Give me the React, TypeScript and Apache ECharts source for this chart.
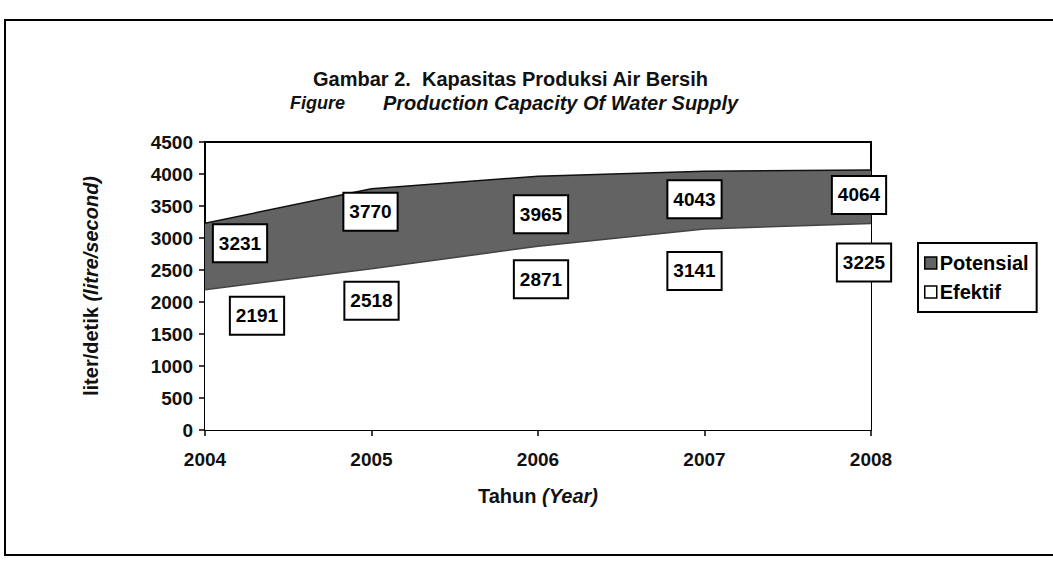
import React, { useEffect, useRef } from "react";
import * as echarts from "echarts";

const years = ["2004", "2005", "2006", "2007", "2008"];
const potensial = [3231, 3770, 3965, 4043, 4064];
const efektif = [2191, 2518, 2871, 3141, 3225];
const yTicks = { min: 0, max: 4500, interval: 500 };

// label placement (layout only)
const potOffsets = [[35, 20], [-1, 23], [3, 38], [-10, 28], [-12, 25]];
const efeOffsets = [[52, 26], [0, 32], [3, 33], [-10, 42], [-7, 39]];

const FONT = "'Liberation Sans', Arial, sans-serif";

const labelBase = {
  show: true,
  position: "inside",
  color: "#000",
  fontFamily: FONT,
  fontWeight: "bold",
  fontSize: 19,
  backgroundColor: "#fff",
  borderColor: "#000",
  borderWidth: 2,
  padding: [9, 5, 8, 5],
};

export default function App() {
  const ref = useRef<HTMLDivElement>(null);
  useEffect(() => {
    if (!ref.current) return;
    const chart = echarts.init(ref.current, null, { renderer: "svg" });
    chart.setOption({
      animation: false,
      backgroundColor: "#fff",
      title: [
        {
          text: "Gambar 2.  Kapasitas Produksi Air Bersih",
          left: 313,
          top: 69,
          padding: 0,
          textStyle: { fontFamily: FONT, fontWeight: "bold", fontSize: 20, color: "#111" },
        },
        {
          text: "{a|Figure}{b|Production Capacity Of Water Supply}",
          left: 290,
          top: 93,
          padding: 0,
          textStyle: {
            fontFamily: FONT,
            fontWeight: "bold",
            fontStyle: "italic",
            fontSize: 20,
            color: "#111",
            rich: {
              a: { fontFamily: FONT, fontWeight: "bold", fontStyle: "italic", fontSize: 18, color: "#111", width: 93 },
              b: { fontFamily: FONT, fontWeight: "bold", fontStyle: "italic", fontSize: 20, color: "#111" },
            },
          },
        },
      ],
      graphic: [
        {
          type: "rect",
          shape: { x: 5, y: 20, width: 1070, height: 535 },
          style: { fill: "none", stroke: "#000", lineWidth: 2 },
          z: -1,
        },
      ],
      legend: {
        orient: "vertical",
        left: 918,
        top: 243,
        padding: [10, 8, 10, 6],
        itemGap: 9,
        itemWidth: 12,
        itemHeight: 12,
        icon: "rect",
        borderColor: "#000",
        borderWidth: 2,
        backgroundColor: "#fff",
        textStyle: { fontFamily: FONT, fontWeight: "bold", fontSize: 20, color: "#000", padding: [0, 0, 0, -2] },
        data: [
          { name: "Potensial", itemStyle: { color: "#636363", borderColor: "#000", borderWidth: 1.5 } },
          { name: "Efektif", itemStyle: { color: "#fff", borderColor: "#000", borderWidth: 1.5 } },
        ],
      },
      grid: {
        left: 205,
        right: 182,
        top: 142,
        bottom: 133,
        show: true,
        borderColor: "#000",
        borderWidth: 2,
        backgroundColor: "#fff",
      },
      xAxis: {
        type: "category",
        data: years,
        boundaryGap: false,
        name: "Tahun {i|(Year)}",
        nameLocation: "middle",
        nameGap: 56,
        nameTextStyle: {
          fontFamily: FONT,
          fontWeight: "bold",
          fontSize: 20,
          color: "#111",
          rich: { i: { fontFamily: FONT, fontWeight: "bold", fontStyle: "italic", fontSize: 20, color: "#111" } },
        },
        axisLine: { lineStyle: { color: "#000", width: 2 } },
        axisTick: { show: true, length: 6, lineStyle: { color: "#000", width: 1.5 } },
        axisLabel: { fontFamily: FONT, fontWeight: "bold", fontSize: 19, color: "#111", margin: 20 },
        splitLine: { show: false },
      },
      yAxis: {
        type: "value",
        min: yTicks.min,
        max: yTicks.max,
        interval: yTicks.interval,
        name: "liter/detik {i|(litre/second)}",
        nameLocation: "middle",
        nameGap: 104,
        nameTextStyle: {
          fontFamily: FONT,
          fontWeight: "bold",
          fontSize: 20,
          color: "#111",
          rich: { i: { fontFamily: FONT, fontWeight: "bold", fontStyle: "italic", fontSize: 20, color: "#111" } },
        },
        axisLine: { show: true, lineStyle: { color: "#000", width: 2 } },
        axisTick: { show: true, length: 6, lineStyle: { color: "#000", width: 1.5 } },
        axisLabel: {
          fontFamily: FONT,
          fontWeight: "bold",
          fontSize: 19,
          color: "#111",
          margin: 12,
          formatter: (v: number) => String(v),
        },
        splitLine: { show: false },
      },
      series: [
        {
          name: "Potensial",
          type: "line",
          symbol: "rect",
          symbolSize: 0,
          z: 2,
          itemStyle: { color: "#636363" },
          lineStyle: { color: "#111", width: 1.5 },
          areaStyle: { color: "#636363", opacity: 1 },
          data: potensial.map((v, i) => ({
            value: v,
            label: { ...labelBase, offset: potOffsets[i] },
          })),
        },
        {
          name: "Efektif",
          type: "line",
          symbol: "rect",
          symbolSize: 0,
          z: 3,
          itemStyle: { color: "#fff" },
          lineStyle: { color: "#444", width: 1.5 },
          areaStyle: { color: "#fff", opacity: 1 },
          data: efektif.map((v, i) => ({
            value: v,
            label: { ...labelBase, offset: efeOffsets[i] },
          })),
        },
      ],
    });
    return () => chart.dispose();
  }, []);
  return (
    <div
      ref={ref}
      style={{ position: "fixed", left: 0, top: 0, width: 1053, height: 563, background: "#fff" }}
    />
  );
}
